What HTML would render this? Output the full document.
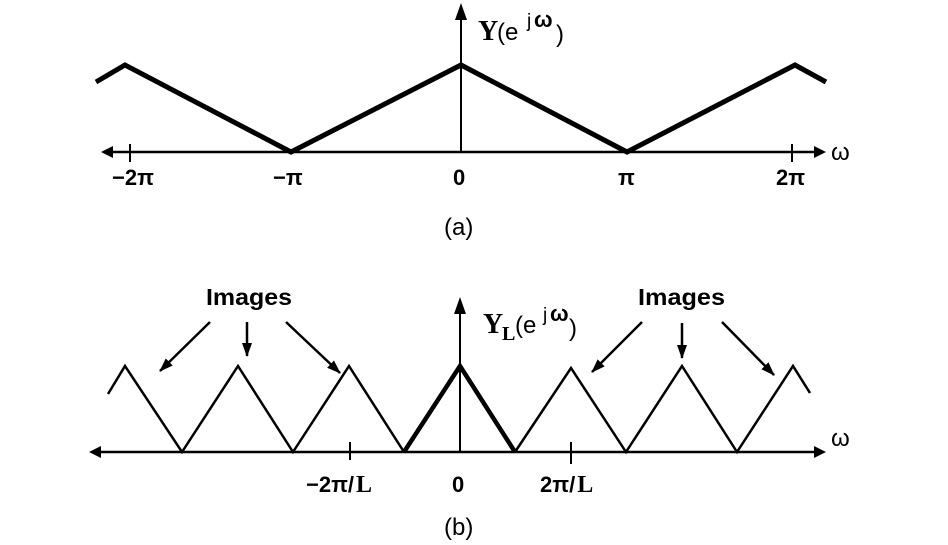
<!DOCTYPE html>
<html><head><meta charset="utf-8"><style>
html,body{margin:0;padding:0;background:#fff}
svg{display:block}
.s{font-family:"Liberation Sans",sans-serif;fill:#000}
.r{font-family:"Liberation Serif",serif;font-weight:bold;fill:#000}
</style></head><body>
<svg width="948" height="545" viewBox="0 0 948 545" xmlns="http://www.w3.org/2000/svg">
<defs>
<marker id="ah2" markerWidth="14" markerHeight="12" refX="13" refY="6" orient="auto" markerUnits="userSpaceOnUse">
<path d="M0,1 L14,6 L0,11 Z" fill="#000"/></marker>
</defs>
<!-- (a) -->
<g stroke="#000" fill="none">
<line x1="112" y1="152" x2="815" y2="152" stroke-width="2.5"/>
<path d="M113,146 L101,152 L113,158 Z" fill="#000" stroke="none"/>
<path d="M814,146 L826,152 L814,158 Z" fill="#000" stroke="none"/>
<line x1="461" y1="152" x2="461" y2="18" stroke-width="2"/>
<path d="M455,20 L461,3 L467,20 Z" fill="#000" stroke="none"/>
<line x1="130" y1="144" x2="130" y2="162" stroke-width="2"/>
<line x1="792" y1="144" x2="792" y2="162" stroke-width="2"/>
<polyline points="96,82 125,65 291,152 461,65 627,152 795,65 826,82" stroke-width="5" stroke-linejoin="miter"/>
</g>
<text class="r" x="478" y="40" font-size="28">Y</text>
<text class="s" x="497" y="40" font-size="24">(e</text>
<text class="s" x="527" y="27" font-size="19">j</text>
<text class="s" x="534" y="27" font-size="22" font-weight="bold">ω</text>
<text class="s" x="556" y="42" font-size="24">)</text>
<text class="s" x="831" y="160" font-size="24">ω</text>
<text class="s" x="112" y="185" font-size="22" font-weight="bold">−2π</text>
<text class="s" x="273" y="185" font-size="22" font-weight="bold">−π</text>
<text class="s" x="453" y="185" font-size="22" font-weight="bold">0</text>
<text class="s" x="618" y="185" font-size="22" font-weight="bold">π</text>
<text class="s" x="776" y="185" font-size="22" font-weight="bold">2π</text>
<text class="s" x="444" y="235" font-size="24">(a)</text>
<!-- (b) -->
<g stroke="#000" fill="none">
<line x1="100" y1="452" x2="815" y2="452" stroke-width="2.5"/>
<path d="M101,446 L89,452 L101,458 Z" fill="#000" stroke="none"/>
<path d="M814,446 L826,452 L814,458 Z" fill="#000" stroke="none"/>
<line x1="460" y1="452" x2="460" y2="312" stroke-width="2"/>
<path d="M454,314 L460,297 L466,314 Z" fill="#000" stroke="none"/>
<line x1="350" y1="442" x2="350" y2="460" stroke-width="2"/>
<line x1="571" y1="442" x2="571" y2="464" stroke-width="2"/>
<polyline points="108,394 125,366 182,452 238,366 293,452 349,366 404,452" stroke-width="2.5"/>
<polyline points="404,452 460,366 515,452" stroke-width="4.5"/>
<polyline points="515,452 571,368 626,452 682,366 737,452 793,366 810,393" stroke-width="2.5"/>
<line x1="210" y1="322" x2="160" y2="371" stroke-width="2.5" marker-end="url(#ah2)"/>
<line x1="247" y1="322" x2="247" y2="356" stroke-width="2.5" marker-end="url(#ah2)"/>
<line x1="286" y1="322" x2="340" y2="373" stroke-width="2.5" marker-end="url(#ah2)"/>
<line x1="642" y1="322" x2="592" y2="372" stroke-width="2.5" marker-end="url(#ah2)"/>
<line x1="682" y1="323" x2="682" y2="358" stroke-width="2.5" marker-end="url(#ah2)"/>
<line x1="722" y1="322" x2="774" y2="375" stroke-width="2.5" marker-end="url(#ah2)"/>
</g>
<text class="s" x="206" y="305" font-size="23" font-weight="bold" textLength="86" lengthAdjust="spacingAndGlyphs">Images</text>
<text class="s" x="638" y="305" font-size="23" font-weight="bold" textLength="87" lengthAdjust="spacingAndGlyphs">Images</text>
<text class="r" x="483" y="333" font-size="28">Y</text>
<text class="r" x="502" y="340" font-size="20">L</text>
<text class="s" x="515" y="333" font-size="24">(e</text>
<text class="s" x="543" y="321" font-size="19">j</text>
<text class="s" x="550" y="321" font-size="22" font-weight="bold">ω</text>
<text class="s" x="569" y="336" font-size="24">)</text>
<text class="s" x="831" y="446" font-size="24">ω</text>
<text x="306" y="492"><tspan class="s" font-size="22" font-weight="bold">−2π/</tspan><tspan class="r" font-size="24" dx="2">L</tspan></text>
<text class="s" x="452" y="492" font-size="22" font-weight="bold">0</text>
<text x="540" y="492"><tspan class="s" font-size="22" font-weight="bold">2π/</tspan><tspan class="r" font-size="24" dx="2">L</tspan></text>
<text class="s" x="444" y="535" font-size="24">(b)</text>
</svg>
</body></html>
